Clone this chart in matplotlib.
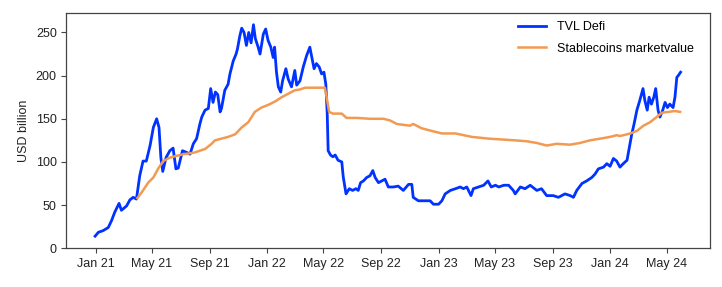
import pandas as pd
import matplotlib
matplotlib.use('Agg')
import matplotlib.pyplot as plt
import matplotlib.dates as mdates

# days after 2021-01-01, values in USD billion
tvl_days = [-1, 6, 16, 27, 34, 41, 50, 55, 66, 73, 80, 87, 94, 101, 108, 116, 123, 130, 135, 139,
            143, 150, 158, 165, 171, 176, 185, 194, 201, 208, 215, 222, 226, 233, 240, 245, 250, 255,
            260, 265, 268, 275, 282, 286, 293, 299, 302, 307, 311, 316, 321, 326, 331, 336, 340, 346,
            350, 357, 362, 367, 373, 378, 381, 385, 389, 394, 398, 405, 410, 417, 424, 428, 435, 442,
            449, 456, 460, 465, 470, 476, 481, 486, 490, 493, 495, 500, 505, 510, 516, 524, 527, 533,
            540, 547, 554, 559, 564, 570, 577, 584, 590, 595, 602, 609, 616, 623, 634, 644, 655, 666,
            673, 676, 687, 701, 712, 719, 730, 737, 744, 755, 766, 776, 783, 790, 799, 804, 815, 826,
            835, 842, 851, 858, 869, 879, 889, 893, 904, 914, 925, 939, 949, 960, 974, 985, 999, 1010,
            1017, 1024, 1035, 1045, 1056, 1063, 1070, 1081, 1088, 1095, 1102, 1109, 1116, 1123, 1131,
            1136, 1141, 1146, 1152, 1158, 1165, 1169, 1174, 1178, 1183, 1188, 1192, 1197, 1201, 1207,
            1212, 1217, 1222, 1229, 1233, 1237, 1240, 1245]
tvl_values = [14, 18.5, 20.4, 24, 32, 42, 52, 44, 49, 56, 59, 57, 84, 101, 101, 119, 140, 150, 140, 105,
              89, 105, 113, 116, 92, 93, 113, 111, 109, 121, 127, 144, 152, 160, 162, 185, 169, 181,
              178, 158, 162, 183, 190, 202, 217, 225, 231, 246, 255, 250, 235, 250, 238, 259, 243, 233,
              225, 248, 254, 241, 233, 221, 233, 204, 187, 181, 194, 208, 196, 187, 206, 189, 194, 210,
              223, 233, 222, 208, 214, 210, 202, 204, 190, 156, 113, 108, 106, 108, 102, 100, 83, 63,
              69, 67, 69, 67, 76, 78, 82, 84, 90, 82, 76, 78, 80, 71, 71, 72, 67, 74,
              74, 59, 55, 55, 55, 51, 51, 55, 63, 67, 69, 71, 69, 71, 61, 69, 71, 73,
              78, 71, 73, 71, 73, 73, 67, 63, 71, 69, 73, 67, 69, 61, 61, 59, 63, 61,
              59, 67, 75, 78, 82, 86, 92, 94, 98, 95, 104, 101, 94, 98, 102,
              117, 132, 144, 160, 171, 185, 171, 160, 175, 167, 175, 185, 160, 152, 160,
              169, 163, 167, 163, 175, 198, 200, 204]

stable_days = [89, 101, 112, 123, 133, 144, 158, 172, 187, 201, 211, 222, 233, 247, 254, 268, 282, 297,
               311, 325, 339, 353, 367, 382, 396, 410, 424, 435, 446, 456, 477, 488, 493, 497, 505, 524,
               534, 556, 584, 613, 627, 641, 655, 669, 676, 694, 715, 737, 766, 801, 837, 865, 893, 917,
               939, 960, 981, 1010, 1031, 1052, 1074, 1095, 1109, 1116, 1138, 1152, 1166, 1180, 1194,
               1205, 1219, 1233, 1244]
stable_values = [58, 67, 76, 82, 92, 101, 105, 107, 109, 110, 111, 113, 115, 121, 125, 127, 129, 132,
                 140, 146, 158, 163, 166, 170, 175, 179, 183, 184, 186, 186, 186, 186, 171, 158, 156, 156,
                 151, 151, 150, 150, 148, 144, 143, 142, 144, 139, 136, 133, 133, 129, 127, 126, 125, 124,
                 122, 119, 121, 120, 122, 125, 127, 129, 131, 130, 133, 136, 142, 146, 152,
                 157, 158, 159, 158]

start = pd.Timestamp('2021-01-01')
tvl_dates = start + pd.to_timedelta(tvl_days, unit='D')
stable_dates = start + pd.to_timedelta(stable_days, unit='D')

plt.rcParams['font.family'] = ['Liberation Sans', 'DejaVu Sans']
plt.rcParams['font.size'] = 9

fig = plt.figure(figsize=(7.22, 2.87), dpi=100)
ax = fig.add_axes([0.092, 0.135, 0.891, 0.818])

ax.plot(tvl_dates, tvl_values, color='#0033ff', lw=2.0, label='TVL Defi')
ax.plot(stable_dates, stable_values, color='#f29a52', lw=1.8, label='Stablecoins marketvalue')

ax.set_xlim(pd.Timestamp('2020-10-31'), pd.Timestamp('2024-07-31'))
ax.set_ylim(0, 272)
ax.set_yticks([0, 50, 100, 150, 200, 250])
ax.xaxis.set_major_locator(mdates.MonthLocator(bymonth=[1, 5, 9]))
ax.xaxis.set_major_formatter(mdates.DateFormatter('%b %y'))
ax.set_ylabel('USD billion', color='#222222')

for s in ax.spines.values():
    s.set_color('#444444')
    s.set_linewidth(0.9)
ax.tick_params(colors='#444444', labelcolor='#222222', length=3.5, width=0.8)

ax.legend(loc='upper right', bbox_to_anchor=(0.993, 1.015), frameon=False,
          handlelength=2.2, handletextpad=0.9, fontsize=9, labelspacing=0.75)

fig.savefig('out.png', dpi=100)
